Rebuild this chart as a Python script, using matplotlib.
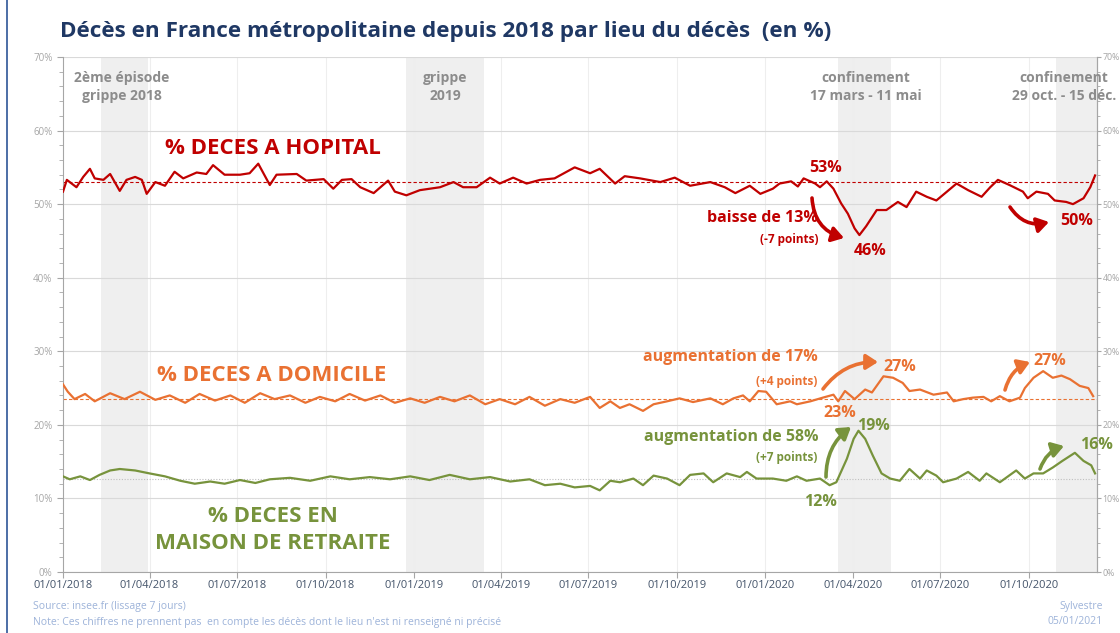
import matplotlib
matplotlib.use('Agg')
import matplotlib.pyplot as plt
import pandas as pd
from matplotlib.ticker import MultipleLocator, FuncFormatter

plt.rcParams['font.family'] = ['Open Sans', 'DejaVu Sans']

START = pd.Timestamp('2018-01-01')

# ---- data (days since 2018-01-01, % of deaths) ----
hop_days = [0, 4, 14, 21, 28, 33, 42, 49, 59, 66, 75, 82, 87, 96, 106, 116, 125, 139, 149, 156,
            168, 184, 194, 203, 215, 222, 243, 253, 271, 281, 290, 300, 309, 323, 338, 345, 357,
            371, 392, 406, 416, 430, 444, 454, 468, 482, 496, 511, 532, 548, 558, 574, 584, 600,
            621, 636, 652, 673, 688, 699, 714, 725, 738, 745, 757, 764, 770, 782, 787, 794, 801,
            809, 816, 823, 828, 835, 846, 856, 868, 877, 887, 898, 908, 919, 929, 941, 955, 964,
            972, 984, 998, 1003, 1012, 1024, 1031, 1043, 1050, 1061, 1068, 1073]
hop_vals = [51.7, 53.3, 52.3, 53.7, 54.8, 53.5, 53.3, 54.1, 51.8, 53.3, 53.7, 53.3, 51.4, 53.0,
            52.5, 54.4, 53.5, 54.3, 54.1, 55.3, 54.0, 54.0, 54.2, 55.5, 52.6, 54.0, 54.1, 53.2,
            53.4, 52.1, 53.3, 53.4, 52.3, 51.5, 53.2, 51.7, 51.2, 51.9, 52.3, 53.0, 52.3, 52.3,
            53.6, 52.8, 53.6, 52.8, 53.3, 53.5, 55.0, 54.2, 54.8, 52.8, 53.8, 53.5, 53.0, 53.6,
            52.5, 53.0, 52.3, 51.5, 52.5, 51.4, 52.1, 52.8, 53.1, 52.4, 53.5, 52.8, 52.3, 53.1,
            52.1, 50.1, 48.7, 46.7, 45.8, 47.0, 49.2, 49.2, 50.3, 49.6, 51.7, 51.0, 50.5, 51.7,
            52.8, 51.9, 51.0, 52.3, 53.3, 52.6, 51.7, 50.8, 51.7, 51.4, 50.5, 50.3, 50.0, 50.8,
            52.3, 53.9]

dom_days = [0, 5, 12, 23, 33, 49, 64, 80, 96, 111, 127, 142, 158, 174, 189, 205, 220, 236, 252,
            267, 283, 298, 314, 330, 345, 361, 376, 392, 407, 423, 439, 454, 470, 485, 501, 517,
            532, 548, 558, 569, 579, 589, 603, 614, 628, 641, 655, 673, 686, 697, 707, 714, 723,
            731, 742, 756, 763, 777, 790, 801, 806, 813, 823, 834, 841, 853, 863, 873, 880, 891,
            905, 919, 926, 936, 946, 957, 965, 974, 984, 995, 1000, 1009, 1019, 1029, 1038, 1047,
            1057, 1066, 1071]
dom_vals = [25.5, 24.5, 23.5, 24.2, 23.2, 24.3, 23.5, 24.5, 23.4, 24.0, 23.0, 24.2, 23.3, 24.0,
            23.0, 24.3, 23.5, 24.0, 23.0, 23.8, 23.2, 24.2, 23.3, 24.0, 23.0, 23.6, 23.0, 23.8,
            23.2, 24.0, 22.8, 23.5, 22.8, 23.8, 22.6, 23.5, 23.0, 23.8, 22.3, 23.2, 22.3, 22.8,
            21.9, 22.8, 23.2, 23.6, 23.1, 23.6, 22.8, 23.6, 24.0, 23.2, 24.6, 24.5, 22.8, 23.2,
            22.8, 23.2, 23.7, 24.1, 23.2, 24.6, 23.5, 24.8, 24.4, 26.6, 26.4, 25.7, 24.6, 24.8,
            24.1, 24.4, 23.2, 23.5, 23.7, 23.8, 23.2, 23.9, 23.2, 23.7, 25.0, 26.4, 27.3, 26.4,
            26.7, 26.2, 25.3, 25.0, 23.9]

ehp_days = [0, 7, 18, 28, 38, 49, 59, 75, 90, 106, 122, 137, 153, 168, 184, 200, 215, 236, 257,
            278, 298, 319, 340, 361, 381, 402, 423, 444, 465, 485, 501, 517, 532, 548, 558, 569,
            579, 593, 603, 614, 628, 641, 652, 666, 676, 690, 704, 711, 721, 738, 752, 763, 773,
            787, 797, 804, 815, 822, 827, 834, 842, 851, 860, 870, 880, 891, 898, 908, 915, 929,
            941, 953, 960, 974, 991, 1000, 1009, 1019, 1029, 1039, 1052, 1061, 1069, 1073]
ehp_vals = [13.0, 12.6, 13.0, 12.5, 13.2, 13.8, 14.0, 13.8, 13.4, 13.0, 12.4, 12.0, 12.3, 12.0,
            12.5, 12.1, 12.6, 12.8, 12.4, 13.0, 12.6, 12.9, 12.6, 13.0, 12.5, 13.2, 12.6, 12.9,
            12.3, 12.6, 11.8, 12.0, 11.5, 11.7, 11.1, 12.4, 12.2, 12.7, 11.8, 13.1, 12.7, 11.8,
            13.2, 13.4, 12.2, 13.4, 12.9, 13.6, 12.7, 12.7, 12.4, 13.0, 12.4, 12.7, 11.8, 12.2,
            15.4, 18.1, 19.2, 18.1, 15.8, 13.4, 12.7, 12.4, 14.0, 12.7, 13.8, 13.1, 12.2, 12.7,
            13.6, 12.4, 13.4, 12.2, 13.8, 12.7, 13.4, 13.4, 14.2, 15.1, 16.2, 15.1, 14.5, 13.4]

ref_hop = 53.0
ref_dom = 23.5
ref_ehp = 12.6

periods = [('2018-02-10', '2018-03-30'), ('2018-12-24', '2019-03-15'),
           ('2020-03-17', '2020-05-11'), ('2020-10-29', '2020-12-15')]

xtick_dates = ['2018-01-01', '2018-04-01', '2018-07-01', '2018-10-01', '2019-01-01',
               '2019-04-01', '2019-07-01', '2019-10-01', '2020-01-01', '2020-04-01',
               '2020-07-01', '2020-10-01']

RED = '#C00000'
ORANGE = '#E97132'
GREEN = '#77933C'
GRAYTXT = '#8C8C8C'


def to_dates(days):
    return START + pd.to_timedelta(days, unit='D')


W, H = 1120, 633
fig = plt.figure(figsize=(W / 100, H / 100), dpi=100)
ax = fig.add_axes([63 / W, 61 / H, 1034 / W, 515 / H])

x0 = pd.Timestamp('2018-01-01')
x1 = pd.Timestamp('2020-12-11')
ax.set_xlim(x0, x1)
ax.set_ylim(0, 70)

for a, b in periods:
    ax.axvspan(pd.Timestamp(a), pd.Timestamp(b), color='#EFEFEF', zorder=0, lw=0)

ax.set_yticks(range(0, 71, 10))
ax.yaxis.set_minor_locator(MultipleLocator(2))
ax.yaxis.set_major_formatter(FuncFormatter(lambda v, p: f'{int(v)}%'))
ax.grid(axis='y', which='major', color='#D9D9D9', lw=0.8, zorder=1)
xt = [pd.Timestamp(d) for d in xtick_dates]
ax.set_xticks(xt)
ax.set_xticklabels([d.strftime('%d/%m/%Y') for d in xt])
for d in xt[1:]:
    ax.axvline(d, color='#EEEEEE', lw=0.8, zorder=1)

ax.tick_params(axis='y', which='both', direction='out', color='#A6A6A6', labelcolor='#A6A6A6',
               labelsize=7)
ax.tick_params(axis='y', which='major', length=4)
ax.tick_params(axis='y', which='minor', length=3)
ax.tick_params(axis='x', direction='out', length=4, color='#A6A6A6', labelcolor='#44546A',
               labelsize=8, pad=2)
ax.spines['top'].set_visible(False)
for s in ['left', 'bottom', 'right']:
    ax.spines[s].set_color('#A6A6A6')
    ax.spines[s].set_linewidth(0.8)

ax2 = ax.twinx()
ax2.set_ylim(0, 70)
ax2.set_yticks(range(0, 71, 10))
ax2.yaxis.set_minor_locator(MultipleLocator(2))
ax2.yaxis.set_major_formatter(FuncFormatter(lambda v, p: f'{int(v)}%'))
ax2.tick_params(axis='y', which='both', direction='out', color='#A6A6A6', labelcolor='#A6A6A6',
                labelsize=6.3, pad=1)
ax2.tick_params(axis='y', which='major', length=3)
ax2.tick_params(axis='y', which='minor', length=2.5)
for s in ['top', 'left', 'bottom']:
    ax2.spines[s].set_visible(False)
ax2.spines['right'].set_color('#A6A6A6')
ax2.spines['right'].set_linewidth(0.8)

ax.axhline(ref_hop, color=RED, lw=0.8, ls=(0, (3, 2)), zorder=2)
ax.axhline(ref_dom, color=ORANGE, lw=0.8, ls=(0, (3, 2)), zorder=2)
ax.axhline(ref_ehp, color='#BFBFBF', lw=0.8, ls=(0, (1, 1.5)), zorder=2)

ax.plot(to_dates(hop_days), hop_vals, color=RED, lw=1.6, zorder=3)
ax.plot(to_dates(dom_days), dom_vals, color=ORANGE, lw=1.6, zorder=3)
ax.plot(to_dates(ehp_days), ehp_vals, color=GREEN, lw=1.6, zorder=3)


def F(x, y):
    return (x / W, 1 - y / H)


def txt(x, y, s, size, color, ha='center', va='center', weight='bold'):
    fig.text(*F(x, y), s, fontsize=size, color=color, ha=ha, va=va, weight=weight,
             linespacing=1.35)


def arrow(p0, p1, color, rad):
    ax.annotate('', xy=F(*p1), xytext=F(*p0), xycoords='figure fraction',
                textcoords='figure fraction',
                arrowprops=dict(arrowstyle='-|>,head_length=0.7,head_width=0.45', color=color,
                                lw=2.6, shrinkA=0, shrinkB=0,
                                connectionstyle=f'arc3,rad={rad}'))


# title
txt(60, 32, 'Décès en France métropolitaine depuis 2018 par lieu du décès  (en %)', 16.2,
    '#1F3864', ha='left')

# period labels
txt(122, 87, '2ème épisode\ngrippe 2018', 10, GRAYTXT)
txt(445, 87, 'grippe\n2019', 10, GRAYTXT)
txt(866, 87, 'confinement\n17 mars - 11 mai', 10, GRAYTXT)
txt(1064, 87, 'confinement\n29 oct. - 15 déc.', 10, GRAYTXT)

# series labels
txt(273, 149, '% DECES A HOPITAL', 16, RED)
txt(272, 376, '% DECES A DOMICILE', 16, ORANGE)
txt(273, 530, '% DECES EN\nMAISON DE RETRAITE', 16, GREEN)

# hospital annotations
txt(826, 168, '53%', 11.5, RED)
txt(818, 218, 'baisse de 13%', 11.5, RED, ha='right')
txt(818, 240, '(-7 points)', 8.5, RED, ha='right')
txt(870, 251, '46%', 11.5, RED)
txt(1077, 221, '50%', 11.5, RED)
arrow((812, 198), (844, 238), RED, 0.35)
arrow((1010, 207), (1049, 222), RED, 0.35)

# home annotations
txt(818, 357, 'augmentation de 17%', 11.5, ORANGE, ha='right')
txt(817, 381, '(+4 points)', 8.5, ORANGE, ha='right')
txt(900, 367, '27%', 11.5, ORANGE)
txt(840, 413, '23%', 11.5, ORANGE)
txt(1050, 361, '27%', 11.5, ORANGE)
arrow((823, 389), (878, 362), ORANGE, -0.25)
arrow((1005, 390), (1030, 362), ORANGE, -0.25)

# nursing home annotations
txt(818, 437, 'augmentation de 58%', 11.5, GREEN, ha='right')
txt(817, 458, '(+7 points)', 8.5, GREEN, ha='right')
txt(873, 426, '19%', 11.5, GREEN)
txt(820, 502, '12%', 11.5, GREEN)
txt(1096, 445, '16%', 11.5, GREEN)
arrow((826, 477), (851, 427), GREEN, -0.25)
arrow((1040, 469), (1064, 446), GREEN, -0.25)

# footer
txt(33, 606, 'Source: insee.fr (lissage 7 jours)', 7.5, '#9DB3D9', ha='left', weight='normal')
txt(33, 622, "Note: Ces chiffres ne prennent pas  en compte les décès dont le lieu n'est ni "
    "renseigné ni précisé", 7.5, '#9DB3D9', ha='left', weight='normal')
txt(1103, 606, 'Sylvestre', 7.5, '#9DB3D9', ha='right', weight='normal')
txt(1103, 622, '05/01/2021', 7.5, '#9DB3D9', ha='right', weight='normal')

# left frame line of the source image
fig.add_artist(plt.Line2D([7 / W, 7 / W], [0, 1], color='#2E5597', lw=1.2,
                          transform=fig.transFigure))

fig.savefig('out.png', dpi=100)
